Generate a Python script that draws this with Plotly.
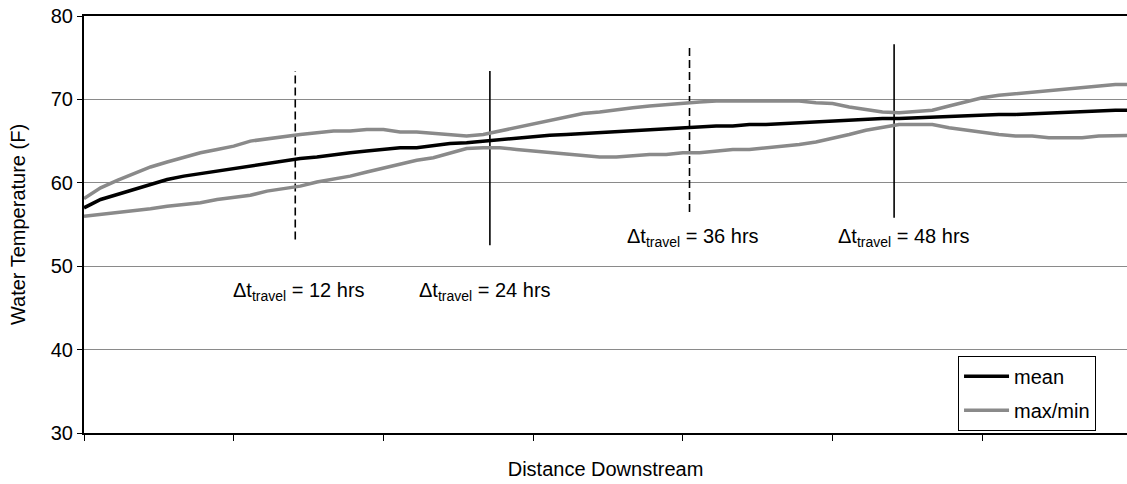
import plotly.graph_objects as go

# distance downstream, in sample steps (one x tick every 9 steps)
distance = list(range(64))

temp_mean = [
    57.0, 58.0, 58.6, 59.2, 59.9, 60.4, 60.8, 61.1, 61.5, 61.8,
    62.1, 62.4, 62.6, 62.9, 63.1, 63.4, 63.6, 63.8, 64.0, 64.2,
    64.2, 64.5, 64.7, 64.8, 65.0, 65.2, 65.4, 65.6, 65.7, 65.8,
    65.9, 66.0, 66.2, 66.3, 66.4, 66.5, 66.6, 66.7, 66.8, 66.8,
    67.0, 67.0, 67.1, 67.2, 67.3, 67.4, 67.5, 67.7, 67.7, 67.7,
    67.8, 67.9, 68.0, 68.1, 68.1, 68.2, 68.2, 68.3, 68.4, 68.5,
    68.5, 68.6, 68.7, 68.7,
]
temp_max = [
    58.1, 59.4, 60.3, 61.1, 61.9, 62.5, 63.1, 63.6, 64.0, 64.4,
    65.0, 65.3, 65.5, 65.8, 66.0, 66.2, 66.2, 66.4, 66.4, 66.1,
    66.1, 65.9, 65.7, 65.6, 65.8, 66.2, 66.6, 67.1, 67.5, 67.9,
    68.3, 68.5, 68.8, 69.0, 69.2, 69.4, 69.5, 69.7, 69.8, 69.8,
    69.8, 69.8, 69.8, 69.8, 69.6, 69.5, 69.1, 68.8, 68.5, 68.4,
    68.6, 68.7, 69.2, 69.7, 70.2, 70.5, 70.7, 70.9, 71.1, 71.3,
    71.5, 71.6, 71.8, 71.8,
]
temp_min = [
    56.0, 56.2, 56.4, 56.7, 56.9, 57.2, 57.4, 57.6, 58.0, 58.3,
    58.5, 59.0, 59.3, 59.6, 60.1, 60.4, 60.8, 61.3, 61.8, 62.3,
    62.7, 63.0, 63.6, 64.1, 64.2, 64.2, 64.0, 63.8, 63.6, 63.4,
    63.2, 63.1, 63.1, 63.3, 63.4, 63.4, 63.6, 63.6, 63.8, 64.0,
    64.0, 64.2, 64.3, 64.6, 64.9, 65.3, 65.8, 66.3, 66.7, 67.0,
    67.0, 67.0, 66.6, 66.3, 66.0, 65.8, 65.6, 65.6, 65.4, 65.4,
    65.4, 65.6, 65.7, 65.7,
]

# travel time markers
travel_hours = [12, 24, 36, 48]
marker_x = [12.7, 24.4, 36.4, 48.7]
marker_y0 = [53.2, 52.5, 56.5, 55.8]
marker_y1 = [73.4, 73.4, 76.6, 76.6]
marker_dash = ['8px,4px', 'solid', '8px,4px', 'solid']
label_x = [12.9, 24.1, 36.6, 49.3]
label_y = [47.0, 47.0, 53.4, 53.4]

x_ticks = [0, 9, 18, 27, 36, 45, 54]
y_ticks = [30, 40, 50, 60, 70, 80]

FONT = 'Liberation Sans, Arial, sans-serif'
GRAY = '#8a8a8a'

fig = go.Figure()

# vertical travel-time lines
for xv, y0, y1, dash in zip(marker_x, marker_y0, marker_y1, marker_dash):
    fig.add_trace(go.Scatter(
        x=[xv, xv], y=[y0, y1], mode='lines',
        line=dict(color='#000000', width=1.6, dash=dash),
        showlegend=False, hoverinfo='skip'
    ))

fig.add_trace(go.Scatter(
    x=distance, y=temp_min, mode='lines', name='max/min',
    line=dict(color=GRAY, width=3.5), showlegend=False, legendgroup='b'
))
fig.add_trace(go.Scatter(
    x=distance, y=temp_max, mode='lines', name='max/min',
    line=dict(color=GRAY, width=3.5), legendgroup='b', legendrank=2
))
fig.add_trace(go.Scatter(
    x=distance, y=temp_mean, mode='lines', name='mean',
    line=dict(color='#000000', width=3.5), legendgroup='a', legendrank=1
))

for hrs, lx, ly in zip(travel_hours, label_x, label_y):
    fig.add_annotation(
        x=lx, y=ly, xref='x', yref='y',
        text=f'\u0394t<sub>travel</sub> = {hrs} hrs',
        showarrow=False, font=dict(size=20, color='#000000', family=FONT)
    )

fig.update_layout(
    width=1127,
    height=484,
    margin=dict(l=84, r=0, t=16, b=51),
    plot_bgcolor='#ffffff',
    paper_bgcolor='#ffffff',
    font=dict(family=FONT, size=20, color='#000000'),
    legend=dict(
        x=0.838, y=0.185, xanchor='left', yanchor='top',
        bordercolor='#000000', borderwidth=1, bgcolor='#ffffff',
        font=dict(size=20), tracegroupgap=5, itemwidth=45,
    ),
    xaxis=dict(
        range=[0, 62.7],
        tickvals=x_ticks,
        showticklabels=False,
        ticks='outside', ticklen=6, tickcolor='#000000', tickwidth=1,
        showgrid=False, zeroline=False,
        showline=True, linecolor='#000000', linewidth=2, mirror=True,
        title=dict(text='Distance Downstream', standoff=22, font=dict(size=20)),
    ),
    yaxis=dict(
        range=[30, 80],
        tickvals=y_ticks,
        ticks='outside', ticklen=5, tickcolor='#000000', tickwidth=1,
        showgrid=True, gridcolor=GRAY, gridwidth=1, zeroline=False,
        showline=True, linecolor='#000000', linewidth=2,
        tickfont=dict(size=20),
        title=dict(text='Water Temperature (F)', standoff=20, font=dict(size=20)),
    ),
)

# page body has a default 8px margin; drop it so the figure fills the window
fig.write_html(
    'out.html',
    config={'displayModeBar': False},
    post_script="document.body.style.margin='0';",
)
